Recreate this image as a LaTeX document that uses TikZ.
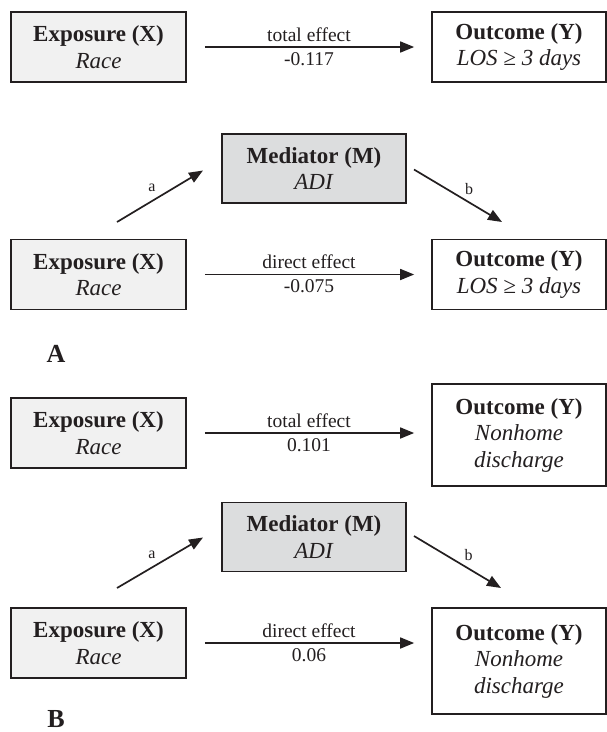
\documentclass[tikz,border=0pt]{standalone}
\usepackage{fontspec}
\setmainfont{Liberation Serif}
\usetikzlibrary{arrows.meta,calc}
\definecolor{ink}{HTML}{231F20}
\definecolor{expfill}{HTML}{F1F1F1}
\definecolor{medfill}{HTML}{DCDDDE}
\begin{document}
\begin{tikzpicture}[x=1pt,y=-1pt,
  boxbase/.style={draw=ink, line width=1.7pt, minimum width=175pt, minimum height=70pt,
    align=center, inner sep=0pt, text=ink, font=\fontsize{23}{26.5}\selectfont},
  expbox/.style={boxbase, fill=expfill},
  medbox/.style={boxbase, fill=medfill, minimum width=184pt, minimum height=69pt},
  outbox/.style={boxbase, fill=white, minimum width=174pt},
  arr/.style={draw=ink, line width=1.7pt, -{Triangle[length=14pt,width=11pt]}},
  lbl/.style={font=\fontsize{19.5}{22}\selectfont, inner sep=0pt, anchor=base, text=ink},
  tiny/.style={font=\fontsize{16}{18}\selectfont, inner sep=0pt, text=ink},
  panel/.style={font=\fontsize{26}{28}\selectfont\bfseries, inner sep=0pt, anchor=base, text=ink}]
\useasboundingbox (0,0) rectangle (607,732);
% ---------- Panel A ----------
\node[expbox] (ex1) at (98.5,47) {\textbf{Exposure (X)}\\\textit{Race}};
\node[outbox] (out1) at (519,47) {\textbf{Outcome (Y)}\\\textit{LOS ≥ 3 days}};
\draw[arr, shorten <=18pt, shorten >=17pt] (ex1.east) -- (ex1.east -| out1.west)
  node[midway, lbl, yshift=5.6pt] {total effect}
  node[midway, lbl, yshift=-18pt] {-0.117};
\node[medbox] (med1) at (314,168.5) {\textbf{Mediator (M)}\\\textit{ADI}};
\node[expbox] (ex2) at (98.5,274.5) {\textbf{Exposure (X)}\\\textit{Race}};
\node[outbox] (out2) at (519,274.5) {\textbf{Outcome (Y)}\\\textit{LOS ≥ 3 days}};
\draw[arr, shorten <=18pt, shorten >=17pt] (ex2.east) -- (ex2.east -| out2.west)
  node[midway, lbl, yshift=5.6pt] {direct effect}
  node[midway, lbl, yshift=-18pt] {-0.075};
\coordinate (a1s) at (117,222);
\coordinate (a1e) at (203,170.5);
\coordinate (b1s) at (414,169.5);
\coordinate (b1e) at (502,222);
\draw[arr] (a1s) -- (a1e) node[pos=0.5, tiny, xshift=-8pt, yshift=8pt] {a};
\draw[arr] (b1s) -- (b1e) node[pos=0.5, tiny, xshift=11pt, yshift=6.5pt] {b};
\node[panel] (pa) at (56,362) {A};
% ---------- Panel B ----------
\node[expbox] (ex3) at (98.5,433) {\textbf{Exposure (X)}\\\textit{Race}};
\node[outbox, minimum height=102pt] (out3) at (519,435) {\textbf{Outcome (Y)}\\\textit{Nonhome}\\\textit{discharge}};
\draw[arr, shorten <=18pt, shorten >=17pt] (ex3.east) -- (ex3.east -| out3.west)
  node[midway, lbl, yshift=5.6pt] {total effect}
  node[midway, lbl, yshift=-18pt] {0.101};
\node[medbox] (med2) at (314,537) {\textbf{Mediator (M)}\\\textit{ADI}};
\node[expbox] (ex4) at (98.5,643) {\textbf{Exposure (X)}\\\textit{Race}};
\node[outbox, minimum height=106pt] (out4) at (519,661) {\textbf{Outcome (Y)}\\\textit{Nonhome}\\\textit{discharge}};
\draw[arr, shorten <=18pt, shorten >=17pt] (ex4.east) -- (ex4.east -| out4.west)
  node[midway, lbl, yshift=5.6pt] {direct effect}
  node[midway, lbl, yshift=-18pt] {0.06};
\coordinate (a2s) at (117,588);
\coordinate (a2e) at (203,537.5);
\coordinate (b2s) at (414,536);
\coordinate (b2e) at (501,588);
\draw[arr] (a2s) -- (a2e) node[pos=0.5, tiny, xshift=-8pt, yshift=8pt] {a};
\draw[arr] (b2s) -- (b2e) node[pos=0.5, tiny, xshift=11pt, yshift=6.5pt] {b};
\node[panel] (pb) at (56,727) {B};
\end{tikzpicture}
\end{document}
